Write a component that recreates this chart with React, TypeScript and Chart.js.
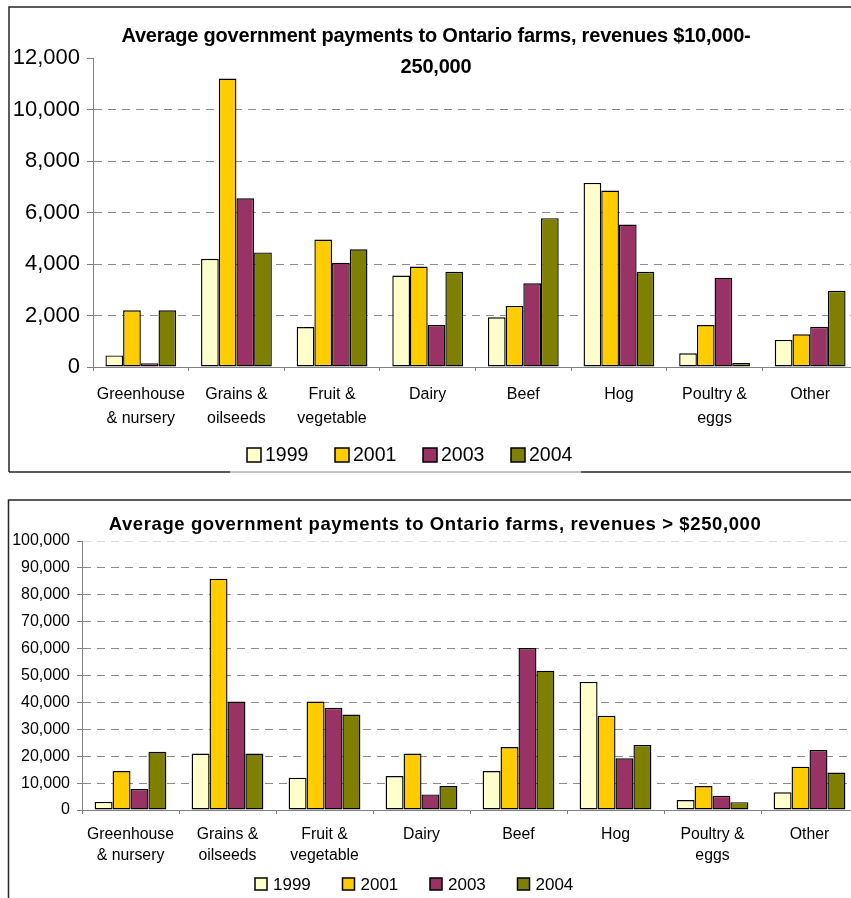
import { useEffect, useRef } from 'react';
import { Chart, registerables } from 'chart.js';

Chart.register(...registerables);

const FONT = '"Liberation Sans", Arial, Helvetica, sans-serif';

// Farm types along the category axis (two-line labels where wrapped)
const categories: string[][] = [
  ['Greenhouse', '& nursery'],
  ['Grains &', 'oilseeds'],
  ['Fruit &', 'vegetable'],
  ['Dairy'],
  ['Beef'],
  ['Hog'],
  ['Poultry &', 'eggs'],
  ['Other'],
];

const seriesLabels = ['1999', '2001', '2003', '2004'];
const seriesColors = ['#FFFFCC', '#FFCC00', '#993366', '#808000'];

// Average payments, farms with revenues $10,000-250,000
const mid1999 = [450, 4200, 1550, 3550, 1930, 7150, 530, 1050];
const mid2001 = [2200, 11200, 4950, 3900, 2370, 6850, 1630, 1270];
const mid2003 = [150, 6550, 4050, 1630, 3250, 5530, 3470, 1560];
const mid2004 = [2200, 4450, 4570, 3700, 5780, 3700, 160, 2960];

// Average payments, farms with revenues > $250,000
const large1999 = [3000, 21000, 12000, 12600, 14500, 47600, 3700, 6600];
const large2001 = [14500, 86000, 40300, 21000, 23400, 35000, 8900, 16100];
const large2003 = [7800, 40300, 38000, 5800, 60200, 19200, 5300, 22300];
const large2004 = [21700, 21000, 35500, 8900, 51800, 24200, 2900, 13900];

const midTitle = ['Average government payments to Ontario farms, revenues $10,000-', '250,000'];
const largeTitle = ['Average government payments to Ontario farms, revenues > $250,000'];

const midAxisMax = 12000;
const midAxisStep = 2000;
const largeAxisMax = 100000;
const largeAxisStep = 10000;

const CANVAS_W = 870;

interface PanelSpec {
  title: string[];
  values: number[][];
  yMax: number;
  yStep: number;
  top: number;
  height: number;
  area: { left: number; right: number; top: number; bottom: number };
  xAxisHeight: number;
  ySize: number;
  yTickLen: number;
  yPad: number;
  xSize: number;
  xLineHeight: number;
  xPad: number;
  titleSize: number;
  titleSpacing: number;
  titleX: number;
  titleYs: number[];
  legendX: number;
  legendStep: number;
  legendBox: number;
  legendGap: number;
  legendY: number;
  legendSize: number;
  frameLeft: number;
  frameTop: number;
  frameBottom: number | null;
  topGridColor: string;
}

const fmt = (v: number) => String(Math.round(v)).replace(/\B(?=(\d{3})+(?!\d))/g, ',');

function makeFramePlugin(spec: PanelSpec) {
  return {
    id: 'panelFrame',
    afterDraw(chart: Chart) {
      const ctx = chart.ctx as any;
      ctx.save();
      // outer frame
      ctx.lineWidth = 1.5;
      ctx.strokeStyle = '#262626';
      ctx.beginPath();
      ctx.moveTo(spec.frameLeft, spec.frameBottom ?? chart.height + 2);
      ctx.lineTo(spec.frameLeft, spec.frameTop);
      ctx.lineTo(chart.width + 2, spec.frameTop);
      ctx.stroke();
      if (spec.frameBottom != null) {
        ctx.beginPath();
        ctx.moveTo(spec.frameLeft, spec.frameBottom);
        ctx.lineTo(230, spec.frameBottom);
        ctx.moveTo(581, spec.frameBottom);
        ctx.lineTo(chart.width + 2, spec.frameBottom);
        ctx.stroke();
        ctx.strokeStyle = '#8a8a8a';
        ctx.lineWidth = 1;
        ctx.beginPath();
        ctx.moveTo(230, spec.frameBottom);
        ctx.lineTo(581, spec.frameBottom);
        ctx.stroke();
      }

      // title
      ctx.fillStyle = '#000';
      ctx.font = `bold ${spec.titleSize}px ${FONT}`;
      ctx.textAlign = 'center';
      ctx.textBaseline = 'middle';
      if ('letterSpacing' in ctx) ctx.letterSpacing = `${spec.titleSpacing}px`;
      spec.title.forEach((line, i) => ctx.fillText(line, spec.titleX, spec.titleYs[i]));
      if ('letterSpacing' in ctx) ctx.letterSpacing = '0px';

      // legend
      ctx.font = `${spec.legendSize}px ${FONT}`;
      ctx.textAlign = 'left';
      chart.data.datasets.forEach((ds, i) => {
        const x = spec.legendX + i * spec.legendStep;
        const s = spec.legendBox;
        const y0 = spec.legendY - s / 2;
        ctx.fillStyle = ds.backgroundColor as string;
        ctx.fillRect(x, y0, s, s);
        ctx.lineWidth = 1.5;
        ctx.strokeStyle = '#000';
        ctx.strokeRect(x, y0, s, s);
        ctx.fillStyle = '#000';
        ctx.fillText(String(ds.label), x + spec.legendGap, spec.legendY + 1);
      });
      ctx.restore();
    },
  };
}

function buildConfig(spec: PanelSpec): any {
  return {
    type: 'bar',
    data: {
      labels: categories,
      datasets: spec.values.map((data, i) => ({
        label: seriesLabels[i],
        data,
        backgroundColor: seriesColors[i],
        borderColor: '#000',
        borderWidth: 1.4,
        borderSkipped: false,
        categoryPercentage: 0.74,
        barPercentage: 1,
      })),
    },
    options: {
      responsive: false,
      animation: false,
      events: [],
      layout: {
        padding: {
          left: 0,
          right: CANVAS_W - spec.area.right,
          top: spec.area.top,
          bottom: spec.height - spec.area.bottom - spec.xAxisHeight,
        },
      },
      plugins: {
        legend: { display: false },
        title: { display: false },
        tooltip: { enabled: false },
      },
      scales: {
        x: {
          ticks: {
            color: '#000',
            font: { family: FONT, size: spec.xSize, lineHeight: spec.xLineHeight },
            padding: spec.xPad,
            autoSkip: false,
            maxRotation: 0,
            minRotation: 0,
          },
          grid: {
            display: true,
            drawOnChartArea: false,
            drawTicks: true,
            tickLength: 4,
            tickColor: '#808080',
            offset: true,
          },
          border: { color: '#808080', width: 1 },
          afterFit: (s: any) => {
            s.height = spec.xAxisHeight;
          },
        },
        y: {
          min: 0,
          max: spec.yMax,
          ticks: {
            stepSize: spec.yStep,
            color: '#000',
            font: { family: FONT, size: spec.ySize },
            padding: spec.yPad,
            callback: (v: any) => fmt(Number(v)),
          },
          grid: {
            color: (c: any) => {
              const v = c.tick ? c.tick.value : 0;
              if (v === 0) return 'rgba(0,0,0,0)';
              if (v === spec.yMax) return spec.topGridColor;
              return '#8c8c8c';
            },
            lineWidth: 1,
            tickColor: '#808080',
            tickLength: spec.yTickLen,
            tickBorderDash: [],
          },
          border: { color: '#808080', width: 1, dash: [8, 6] },
          afterFit: (s: any) => {
            s.width = spec.area.left;
          },
        },
      },
    },
    plugins: [makeFramePlugin(spec)],
  };
}

const midPanel: PanelSpec = {
  title: midTitle,
  values: [mid1999, mid2001, mid2003, mid2004],
  yMax: midAxisMax,
  yStep: midAxisStep,
  top: 0,
  height: 485,
  area: { left: 93, right: 858, top: 58, bottom: 367 },
  xAxisHeight: 74,
  ySize: 22,
  yTickLen: 6,
  yPad: 7,
  xSize: 16,
  xLineHeight: 24 / 16,
  xPad: 12,
  titleSize: 20,
  titleSpacing: -0.2,
  titleX: 436,
  titleYs: [36, 67],
  legendX: 247,
  legendStep: 88,
  legendBox: 14,
  legendGap: 18,
  legendY: 455,
  legendSize: 19.5,
  frameLeft: 9,
  frameTop: 7,
  frameBottom: 472,
  topGridColor: 'rgba(0,0,0,0)',
};

const largePanel: PanelSpec = {
  title: largeTitle,
  values: [large1999, large2001, large2003, large2004],
  yMax: largeAxisMax,
  yStep: largeAxisStep,
  top: 490,
  height: 408,
  area: { left: 82, right: 858, top: 51, bottom: 320 },
  xAxisHeight: 64,
  ySize: 16,
  yTickLen: 5,
  yPad: 7,
  xSize: 15.8,
  xLineHeight: 21 / 15.8,
  xPad: 10,
  titleSize: 18.5,
  titleSpacing: 0.6,
  titleX: 435,
  titleYs: [35],
  legendX: 255,
  legendStep: 87.5,
  legendBox: 12,
  legendGap: 18,
  legendY: 394,
  legendSize: 17,
  frameLeft: 8.5,
  frameTop: 10,
  frameBottom: null,
  topGridColor: '#dcdcdc',
};

function PaymentsPanel({ spec }: { spec: PanelSpec }) {
  const ref = useRef<HTMLCanvasElement>(null);
  useEffect(() => {
    if (!ref.current) return;
    const chart = new Chart(ref.current, buildConfig(spec));
    return () => chart.destroy();
  }, [spec]);
  return (
    <canvas
      ref={ref}
      width={CANVAS_W}
      height={spec.height}
      style={{ position: 'absolute', left: 0, top: spec.top, width: CANVAS_W, height: spec.height }}
    />
  );
}

export default function App() {
  return (
    <div
      style={{
        position: 'absolute',
        left: 0,
        top: 0,
        width: 851,
        height: 898,
        overflow: 'hidden',
        background: '#fff',
      }}
    >
      <PaymentsPanel spec={midPanel} />
      <PaymentsPanel spec={largePanel} />
    </div>
  );
}
